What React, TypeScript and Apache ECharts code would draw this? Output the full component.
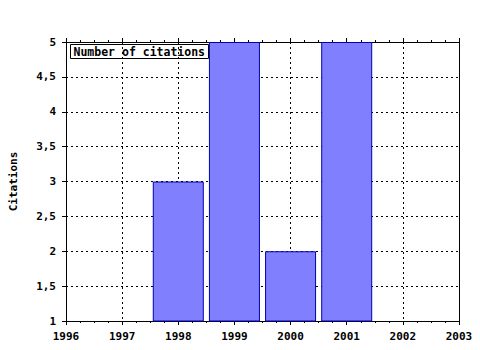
import React, { useEffect, useRef } from "react";
import * as echarts from "echarts";

const years = [1998, 1999, 2000, 2001];
const citations = [3, 5, 2, 5];
const legendLabel = "Number of citations";
const yName = "Citations";

const FONT = "'DejaVu Sans Mono', monospace";

export default function App() {
  const ref = useRef<HTMLDivElement>(null);
  useEffect(() => {
    document.body.style.margin = "0";
    const chart = echarts.init(ref.current!, null, { renderer: "svg" });
    const axisLineStyle = { color: "#000", width: 1 };
    const xBase = {
      type: "value" as const,
      min: 1996,
      max: 2003,
      interval: 1,
      axisLine: { show: true, lineStyle: axisLineStyle },
      axisTick: { show: true, inside: false, length: 4, lineStyle: { color: "#000" } },
      minorTick: { show: true, splitNumber: 4, length: 2, lineStyle: { color: "#000" } },
    };
    chart.setOption({
      animation: false,
      backgroundColor: "#fff",
      grid: { left: 64, right: 21, top: 42, bottom: 29, show: false },
      xAxis: [
        {
          ...xBase,
          position: "bottom",
          axisLabel: {
            color: "#000",
            fontFamily: FONT,
            fontWeight: "bold",
            fontSize: 11,
            margin: 10,
            formatter: (v: number) => String(v),
          },
          splitLine: {
            show: true,
            lineStyle: { color: "#000", type: [2, 3], width: 1 },
          },
        },
        {
          ...xBase,
          position: "top",
          axisLabel: { show: false },
          splitLine: { show: false },
        },
      ],
      yAxis: [
        {
          type: "value",
          min: 1,
          max: 5,
          interval: 0.5,
          name: yName,
          nameLocation: "middle",
          nameGap: 47,
          nameTextStyle: { color: "#000", fontFamily: FONT, fontWeight: "bold", fontSize: 11 },
          axisLine: { show: true, lineStyle: axisLineStyle },
          axisTick: { show: true, length: 4, lineStyle: { color: "#000" } },
          axisLabel: {
            color: "#000",
            fontFamily: FONT,
            fontWeight: "bold",
            fontSize: 11,
            margin: 10,
            formatter: (v: number) => String(v).replace(".", ","),
          },
          splitLine: {
            show: true,
            lineStyle: { color: "#000", type: [2, 3], width: 1 },
          },
        },
        {
          type: "value",
          min: 1,
          max: 5,
          interval: 0.5,
          position: "right",
          axisLine: { show: true, lineStyle: axisLineStyle },
          axisTick: { show: false },
          axisLabel: { show: false },
          splitLine: { show: false },
        },
      ],
      series: [
        {
          type: "bar",
          name: legendLabel,
          xAxisIndex: 0,
          yAxisIndex: 0,
          data: years.map((y, i) => [y, citations[i]]),
          barWidth: 51,
          itemStyle: { color: "#8080ff", borderColor: "#0000b0", borderWidth: 1 },
          z: 3,
        },
      ],
      graphic: [
        {
          type: "group",
          left: 70,
          top: 44,
          z: 100,
          children: [
            {
              type: "rect",
              shape: { x: 0, y: 0, width: 138, height: 14 },
              style: { fill: "#fff", stroke: "#000", lineWidth: 1 },
            },
            {
              type: "text",
              x: 3,
              y: 1,
              style: {
                text: legendLabel,
                fill: "#000",
                font: `bold 11.5px ${FONT}`,
              },
            },
          ],
        },
      ],
    });
    return () => chart.dispose();
  }, []);
  return <div ref={ref} style={{ width: 480, height: 350 }} />;
}
